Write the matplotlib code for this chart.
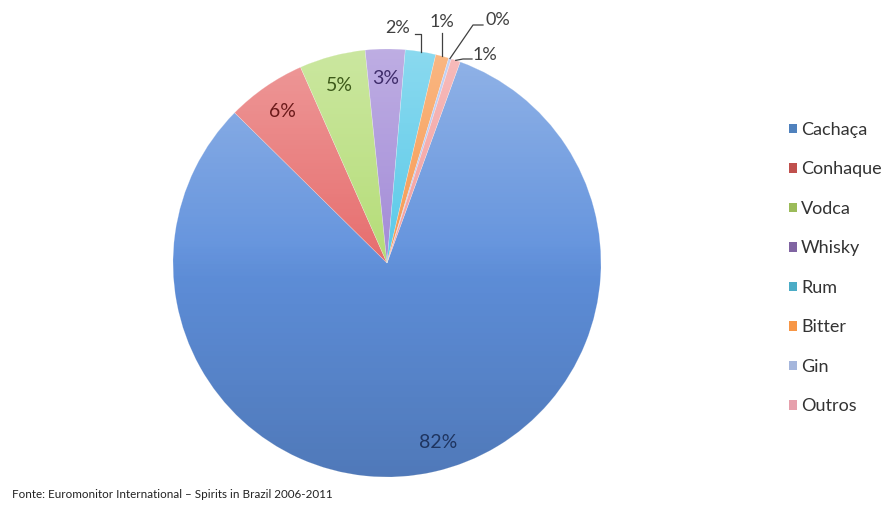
import numpy as np
import matplotlib.pyplot as plt
from matplotlib.patches import Circle, Patch

plt.rcParams['font.family'] = ['Lato', 'DejaVu Sans']

drinks = ['Cachaça', 'Conhaque', 'Vodca', 'Whisky', 'Rum', 'Bitter', 'Gin', 'Outros']
share = [82.0, 6.0, 5.0, 3.0, 2.3, 1.0, 0.2, 0.7]
source = 'Fonte: Euromonitor International – Spirits in Brazil 2006-2011'

pie_colors = ['#5f90dc', '#e66a6a', '#b3dc74', '#a088d6', '#55c8e8', '#f7964a', '#a9bff0', '#f39c9c']
legend_colors = ['#4f81bd', '#c0504d', '#9bbb59', '#8064a2', '#4bacc6', '#f79646', '#a5b6dc', '#e6a0ac']
label_colors = ['#1f3560', '#6b1a1a', '#3d5a1a', '#3f2d6b']

# pie centre / radius in pixels
CX, CY, R = 387, 263, 214
W, H = 895, 509


def px(x, y):
    return ((x - CX) / R, (CY - y) / R)


fig = plt.figure(figsize=(W / 100, H / 100), dpi=100)
ax = fig.add_axes([0, 0, 1, 1])

wedges, _ = ax.pie(share, colors=pie_colors, startangle=70, counterclock=False,
                   radius=1, center=(0, 0),
                   wedgeprops=dict(linewidth=0.4, edgecolor='#ffffff55'))

# vertical shading like the Excel gradient: white fading out, then dark fading in
n = 256
t = np.linspace(0, 1, n)
light = np.zeros((n, 1, 4))
light[:, 0, :3] = 1.0
light[:, 0, 3] = 0.32 * np.clip(1 - t / 0.55, 0, 1)
dark = np.zeros((n, 1, 4))
dark[:, 0, 3] = 0.16 * np.clip((t - 0.45) / 0.55, 0, 1)
for g in (light, dark):
    im = ax.imshow(g, extent=(-1, 1, -1, 1), aspect='auto', zorder=3)
    im.set_clip_path(Circle((0, 0), 1, transform=ax.transData))

# inside labels
for i in range(4):
    w = wedges[i]
    mid = np.deg2rad((w.theta1 + w.theta2) / 2)
    d = 0.86
    x, y = d * np.cos(mid), d * np.sin(mid)
    if i == 0:
        x += 0.05
    ax.text(x, y, f'{share[i]:.0f}%', ha='center', va='center',
            fontsize=14, color=label_colors[i], zorder=5)

# outside labels with leader lines
line_kw = dict(color='#404040', lw=0.9, zorder=5)
txt_kw = dict(fontsize=13, color='#404040', zorder=5)


def anchor(i):
    w = wedges[i]
    mid = np.deg2rad((w.theta1 + w.theta2) / 2)
    return np.cos(mid), np.sin(mid)


# Rum
ax_, ay_ = anchor(4)
_, ey = px(0, 34)
lx, _ = px(415, 34)
ax.plot([ax_, ax_, lx], [ay_, ey, ey], **line_kw)
ax.text(*px(410, 28), f'{share[4]:.0f}%', ha='right', va='center', **txt_kw)

# Bitter
ax_, ay_ = anchor(5)
_, ey = px(0, 33)
ax.plot([ax_, ax_], [ay_, ey], **line_kw)
ax.text(ax_, px(0, 22)[1], f'{share[5]:.0f}%', ha='center', va='center', **txt_kw)

# Gin
ax_, ay_ = anchor(6)
ex, ey = px(473, 25)
lx, _ = px(483, 25)
ax.plot([ax_, ex, lx], [ay_, ey, ey], **line_kw)
ax.text(*px(485, 20), f'{share[6]:.0f}%', ha='left', va='center', **txt_kw)

# Outros
ax_, ay_ = anchor(7)
ex, ey = px(463, 59)
lx, _ = px(472, 59)
ax.plot([ax_, ex, lx], [ay_, ey, ey], **line_kw)
ax.text(*px(473, 55), f'{share[7]:.0f}%', ha='left', va='center', **txt_kw)

ax.set_xlim((0 - CX) / R, (W - CX) / R)
ax.set_ylim((CY - H) / R, CY / R)
ax.set_aspect('auto')
ax.axis('off')

handles = [Patch(facecolor=c, edgecolor='none') for c in legend_colors]
fig.legend(handles, drinks, loc='upper left', bbox_to_anchor=(0.871, 0.778),
           frameon=False, fontsize=13, handlelength=0.45, handleheight=0.45,
           handletextpad=0.25, labelspacing=1.3, borderpad=0, labelcolor='#333333')

fig.text(12 / W, 1 - 494 / H, source, fontsize=8.4, color='#222222', ha='left', va='center')

fig.savefig('out.png', dpi=100)
